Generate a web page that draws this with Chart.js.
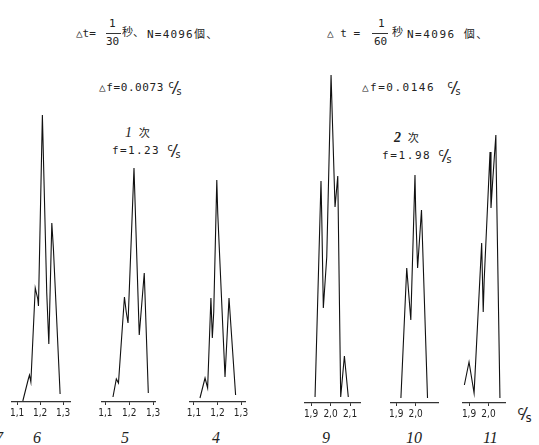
<!DOCTYPE html>
<html>
<head>
<meta charset="utf-8">
<script src="https://cdn.jsdelivr.net/npm/chart.js@4/dist/chart.umd.min.js"></script>
<style>
body{margin:0;background:#fff;width:539px;height:445px;position:relative;overflow:hidden;color:#222;font-family:"DejaVu Sans Mono",monospace}
.t{position:absolute;white-space:nowrap;font-size:11px;line-height:13px}
.cj{font-family:"Noto Sans CJK JP",sans-serif;font-size:11px}
.hl{position:absolute;height:1px;background:#333}
.num{position:absolute;white-space:nowrap;font-family:"Liberation Serif",serif;font-style:italic;font-size:16px;line-height:16px}
.cs{position:absolute;width:14px;height:16px;font-size:10px;line-height:10px}
.cs .c{position:absolute;left:0;top:0}
.cs .sl{position:absolute;left:3px;top:1px;font-size:15px;line-height:15px}
.cs .s{position:absolute;left:8px;top:7px}
canvas{position:absolute}
</style>
</head>
<body>

<!-- 上段の見出し -->
<div class="t" style="left:76px;top:27px">△t=</div>
<div class="t" style="left:109px;top:17px">1</div>
<div class="hl" style="left:106px;top:33px;width:15px"></div>
<div class="t" style="left:106px;top:35px">30</div>
<div class="t cj" style="left:122px;top:25px">秒、</div>
<div class="t" style="left:147px;top:27px;letter-spacing:1.2px">N=4096<span class="cj">個、</span></div>

<div class="t" style="left:327px;top:27px">△ t =</div>
<div class="t" style="left:378px;top:17px">1</div>
<div class="hl" style="left:372px;top:33px;width:16px"></div>
<div class="t" style="left:374px;top:35px">60</div>
<div class="t cj" style="left:392px;top:25px">秒</div>
<div class="t" style="left:407px;top:27px;letter-spacing:1.5px">N=4096 <span class="cj">個、</span></div>

<div class="t" style="left:99px;top:81px;letter-spacing:0.6px">△f=0.0073</div>
<div class="cs" style="left:168px;top:80px"><span class="c">c</span><span class="sl">/</span><span class="s">s</span></div>
<div class="t" style="left:362px;top:81px;letter-spacing:1.5px">△f=0.0146</div>
<div class="cs" style="left:447px;top:80px"><span class="c">c</span><span class="sl">/</span><span class="s">s</span></div>

<div class="t" style="left:125px;top:126px"><i style="font-family:'Liberation Serif';font-size:14px">1</i> <span class="cj">次</span></div>
<div class="t" style="left:112px;top:144px;letter-spacing:1.4px">f=1.23</div>
<div class="cs" style="left:167px;top:143px"><span class="c">c</span><span class="sl">/</span><span class="s">s</span></div>

<div class="t" style="left:394px;top:131px"><i style="font-family:'Liberation Serif';font-size:14px;font-weight:bold">2</i> <span class="cj">次</span></div>
<div class="t" style="left:382px;top:149px;letter-spacing:1.6px">f=1.98</div>
<div class="cs" style="left:438px;top:148px"><span class="c">c</span><span class="sl">/</span><span class="s">s</span></div>

<div class="cs" style="left:517px;top:406px;font-size:12px"><span class="c">c</span><span class="sl">/</span><span class="s">s</span></div>

<div id="labels"></div>

<script>
// 1次 f=1.23 c/s のスペクトル (周波数 c/s と振幅)
const freq6 = [1.125, 1.149, 1.154, 1.160, 1.179, 1.190, 1.193, 1.210, 1.229, 1.238, 1.251, 1.258, 1.287];
const amp6  = [1, 23, 27, 20, 114, 103, 96, 287, 109, 58, 179, 153, 8];

const freq5 = [1.132, 1.146, 1.155, 1.180, 1.1875, 1.195, 1.220, 1.242, 1.263, 1.280];
const amp5  = [5, 23, 19, 105, 90, 79, 234, 67, 129, 9];

const freq4 = [1.1255, 1.147, 1.158, 1.172, 1.178, 1.184, 1.197, 1.201, 1.232, 1.249, 1.277];
const amp4  = [4, 24, 14, 104, 64, 90, 222, 189, 25, 104, 7];

// 2次 f=1.98 c/s
const freq9 = [1.9205, 1.951, 1.955, 1.963, 1.9805, 2.0026, 2.011, 2.023, 2.037, 2.052, 2.071, 2.091];
const amp9  = [6, 222, 185, 95, 146, 328, 273, 196, 227, 6, 47, 6];

const freq10 = [1.924, 1.954, 1.975, 1.9965, 2.000, 2.010, 2.030, 2.061];
const amp10  = [5, 135, 83, 228, 193, 135, 193, 5];

const freq11 = [1.876, 1.900, 1.926, 1.965, 1.973, 1.978, 2.008, 2.013, 2.022, 2.038, 2.0395, 2.059];
const amp11  = [18, 41, 10, 160, 91, 123, 251, 195, 223, 268, 240, 5];

// 目盛
const ticks1 = [1.1, 1.2, 1.3];
const ticks9 = [1.9, 2.0, 2.1];
const ticks2 = [1.9, 2.0];

const panelNames = ['6', '5', '4', '9', '10', '11'];

const YMAX = 340;
const PADX = 14;

// 各図の位置 (軸の左右端ピクセルと基線)
const panels = [
  {x: freq6,  y: amp6,  ticks: ticks1, min: 1.078, max: 1.330, left: 12,  right: 70,  base: 402, lab: 33},
  {x: freq5,  y: amp5,  ticks: ticks1, min: 1.086, max: 1.308, left: 102, right: 155, base: 402, lab: 121},
  {x: freq4,  y: amp4,  ticks: ticks1, min: 1.083, max: 1.317, left: 190, right: 245, base: 402, lab: 212},
  {x: freq9,  y: amp9,  ticks: ticks9, min: 1.869, max: 2.151, left: 305, right: 360, base: 403, lab: 322},
  {x: freq10, y: amp10, ticks: ticks2, min: 1.873, max: 2.115, left: 391, right: 438, base: 403, lab: 406},
  {x: freq11, y: amp11, ticks: ticks2, min: 1.869, max: 2.085, left: 463, right: 505, base: 403, lab: 483}
];

panels.forEach((p, i) => {
  const cv = document.createElement('canvas');
  cv.width = p.right - p.left + PADX * 2;
  cv.height = YMAX + 19;
  cv.style.left = (p.left - PADX) + 'px';
  cv.style.top = (p.base - YMAX) + 'px';
  document.body.appendChild(cv);

  const chart = new Chart(cv.getContext('2d'), {
    type: 'line',
    data: {
      datasets: [{
        data: p.x.map((v, k) => ({x: v, y: p.y[k]})),
        borderColor: '#111',
        borderWidth: 1.1,
        pointRadius: 0,
        tension: 0,
        fill: false
      }]
    },
    options: {
      responsive: false,
      animation: false,
      events: [],
      layout: {padding: {left: PADX, right: PADX, top: 0, bottom: 0}},
      plugins: {legend: {display: false}, tooltip: {enabled: false}},
      scales: {
        x: {
          type: 'linear',
          min: p.min,
          max: p.max,
          afterBuildTicks: s => { s.ticks = p.ticks.map(v => ({value: v})); },
          ticks: {
            callback: v => v.toFixed(1).replace('.', ','),
            font: {family: "'DejaVu Sans Condensed', 'DejaVu Sans'", size: 10},
            color: '#222',
            padding: 2,
            maxRotation: 0,
            autoSkip: false
          },
          grid: {display: true, drawOnChartArea: false, tickLength: 3, color: '#333'},
          border: {display: true, color: '#333', width: 1.2}
        },
        y: {display: false, min: 0, max: YMAX}
      }
    }
  });

  // 基線を合わせる
  const a = chart.chartArea;
  cv.style.top = (p.base - a.bottom) + 'px';
  cv.style.left = (p.left - a.left) + 'px';

  const d = document.createElement('div');
  d.className = 'num';
  d.style.left = p.lab + 'px';
  d.style.top = '430px';
  d.textContent = panelNames[i];
  document.getElementById('labels').appendChild(d);
});
</script>
<div class="num" style="left:-5px;top:430px">7</div>
</body>
</html>
